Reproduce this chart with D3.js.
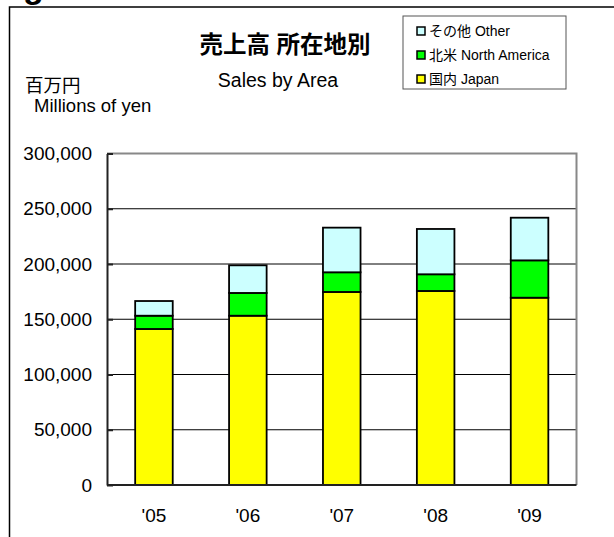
<!DOCTYPE html>
<html>
<head>
<meta charset="utf-8">
<script src="https://cdn.jsdelivr.net/npm/d3@7"></script>
<style>
  body { margin: 0; background: #fff; }
  text { font-family: 'Liberation Sans', Arial, 'Noto Sans CJK JP', sans-serif; fill: #000; }
  .jp { font-family: 'Liberation Sans', 'Noto Sans CJK JP', sans-serif; }
</style>
</head>
<body>
<div id="chart"></div>
<script>
(() => {
  // values in millions of yen
  const years = ["'05", "'06", "'07", "'08", "'09"];
  const japan = [141200, 153200, 174700, 175600, 169500];
  const northAmerica = [12000, 20600, 17800, 15100, 33800];
  const other = [13300, 25000, 40400, 41000, 38600];
  const seriesKeys = ['japan', 'northAmerica', 'other'];
  const seriesNames = ['国内 Japan', '北米 North America', 'その他 Other'];
  const seriesColors = ['#ffff00', '#00ff00', '#ccffff'];
  const yTicks = [0, 50000, 100000, 150000, 200000, 250000, 300000];

  let W = 614, H = 537;
  let plot = { left: 107, right: 576.5, top: 153.5, bottom: 485 };

  let svg = d3.select('#chart')
    .append('svg')
    .attr('width', W)
    .attr('height', H);

  // cut-off heading glyph above the frame
  svg.append('text')
    .attr('x', 23)
    .attr('y', -2)
    .style('font-size', '34px')
    .style('font-weight', 'bold')
    .text('g');

  // outer frame
  svg.append('rect')
    .attr('x', 9.5)
    .attr('y', 7)
    .attr('width', W + 20)
    .attr('height', H + 20)
    .attr('fill', 'none')
    .attr('stroke', '#000')
    .attr('stroke-width', 1.5);

  let table = years.map((y, i) => ({
    year: y,
    japan: japan[i],
    northAmerica: northAmerica[i],
    other: other[i]
  }));

  let stack = d3.stack().keys(seriesKeys)(table);

  let xScale = d3.scaleBand()
    .domain(years)
    .range([plot.left, plot.right])
    .paddingInner(0.6)
    .paddingOuter(0.3);

  let yScale = d3.scaleLinear()
    .domain([0, 300000])
    .range([plot.bottom, plot.top]);

  // gridlines
  svg.append('g')
    .selectAll('line')
    .data(yTicks.slice(1, -1))
    .enter()
    .append('line')
    .attr('x1', plot.left)
    .attr('x2', plot.right)
    .attr('y1', d => yScale(d))
    .attr('y2', d => yScale(d))
    .attr('stroke', '#000')
    .attr('stroke-width', 1);

  // plot border (top / right)
  svg.append('path')
    .attr('d', `M${plot.left},${plot.top}H${plot.right}V${plot.bottom}`)
    .attr('fill', 'none')
    .attr('stroke', '#888')
    .attr('stroke-width', 2);

  // bars
  svg.append('g')
    .selectAll('g')
    .data(stack)
    .enter()
    .append('g')
    .attr('fill', (d, i) => seriesColors[i])
    .selectAll('rect')
    .data(d => d)
    .enter()
    .append('rect')
    .attr('x', d => xScale(d.data.year))
    .attr('y', d => yScale(d[1]))
    .attr('width', xScale.bandwidth())
    .attr('height', d => yScale(d[0]) - yScale(d[1]))
    .attr('stroke', '#000')
    .attr('stroke-width', 1.8);

  // y axis
  let yAxis = d3.axisLeft(yScale)
    .tickValues(yTicks)
    .tickFormat(d3.format(','))
    .tickSizeInner(-6)
    .tickSizeOuter(0)
    .tickPadding(15);

  let gy = svg.append('g')
    .attr('transform', `translate(${plot.left}, 0)`)
    .call(yAxis);
  gy.select('.domain').attr('stroke', '#222').attr('stroke-width', 2);
  gy.selectAll('.tick line').attr('stroke', '#222').attr('stroke-width', 2);
  gy.selectAll('.tick text')
    .style('font-size', '19px')
    .attr('font-family', null);

  // x axis
  let xAxis = d3.axisBottom(xScale)
    .tickSize(0)
    .tickPadding(24);

  let gx = svg.append('g')
    .attr('transform', `translate(0, ${plot.bottom})`)
    .call(xAxis);
  gx.select('.domain')
    .attr('d', `M${plot.left},0H${plot.right}`)
    .attr('stroke', '#222')
    .attr('stroke-width', 2);
  gx.selectAll('.tick text')
    .style('font-size', '19px')
    .attr('font-family', null);

  // titles
  svg.append('text')
    .attr('class', 'jp')
    .attr('x', 285)
    .attr('y', 53)
    .attr('text-anchor', 'middle')
    .style('font-size', '23.5px')
    .style('font-weight', 'bold')
    .text('売上高 所在地別');

  svg.append('text')
    .attr('x', 278)
    .attr('y', 86.5)
    .attr('text-anchor', 'middle')
    .style('font-size', '19.5px')
    .text('Sales by Area');

  svg.append('text')
    .attr('class', 'jp')
    .attr('x', 25)
    .attr('y', 91.5)
    .style('font-size', '18.5px')
    .text('百万円');

  svg.append('text')
    .attr('x', 34)
    .attr('y', 112)
    .style('font-size', '18.5px')
    .text('Millions of yen');

  // legend
  let legend = svg.append('g');
  legend.append('rect')
    .attr('x', 403)
    .attr('y', 16)
    .attr('width', 163)
    .attr('height', 73)
    .attr('fill', '#fff')
    .attr('stroke', '#555')
    .attr('stroke-width', 1);

  let legendOrder = [2, 1, 0];
  let items = legend.selectAll('.item')
    .data(legendOrder)
    .enter()
    .append('g')
    .attr('class', 'item')
    .attr('transform', (d, i) => `translate(417, ${31 + i * 24})`);

  items.append('rect')
    .attr('x', 0)
    .attr('y', -4)
    .attr('width', 8)
    .attr('height', 8)
    .attr('fill', d => seriesColors[d])
    .attr('stroke', '#000')
    .attr('stroke-width', 1.5);

  items.append('text')
    .attr('class', 'jp')
    .attr('x', 12)
    .attr('y', 5)
    .style('font-size', '14px')
    .text(d => seriesNames[d]);
})()
</script>
</body>
</html>
